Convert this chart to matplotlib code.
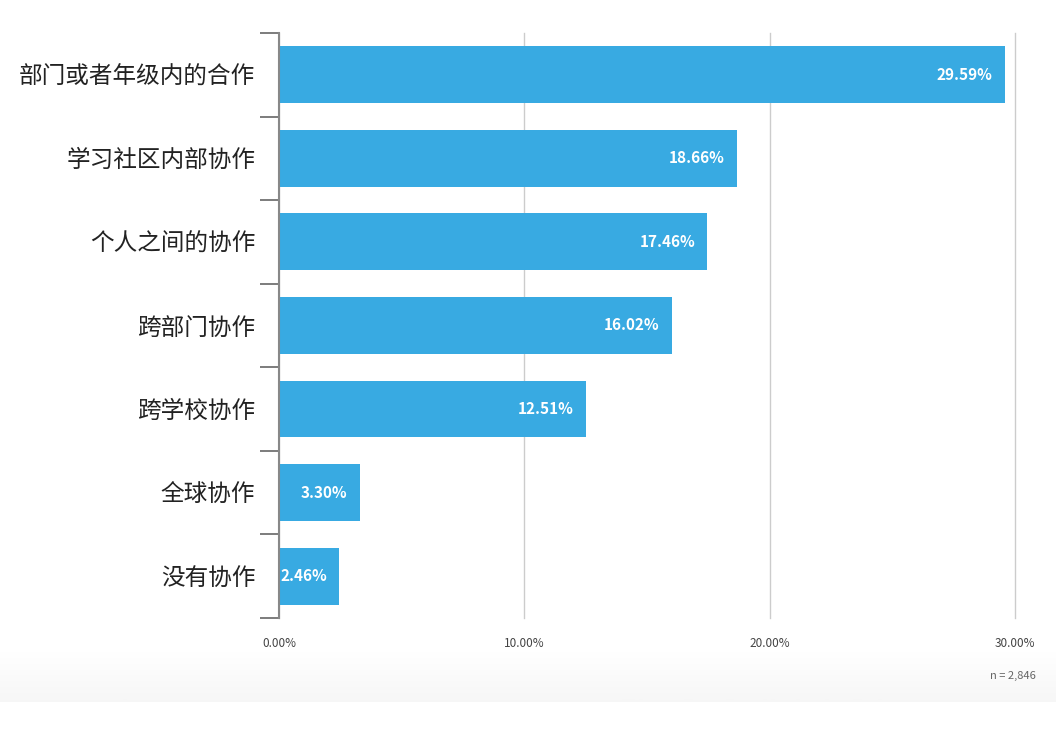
import numpy as np
import matplotlib.pyplot as plt
from matplotlib.ticker import FixedLocator

plt.rcParams['font.family'] = ['Noto Sans CJK SC', 'DejaVu Sans']

categories = ['部门或者年级内的合作', '学习社区内部协作', '个人之间的协作', '跨部门协作',
              '跨学校协作', '全球协作', '没有协作']
values = [29.59, 18.66, 17.46, 16.02, 12.51, 3.30, 2.46]
xticks = [0, 10, 20, 30]
xtick_labels = ['0.00%', '10.00%', '20.00%', '30.00%']

fig = plt.figure(figsize=(10.56, 7.31), dpi=100)

# faint grey shadow band at the bottom
grad = np.linspace(0, 1, 100).reshape(-1, 1)
bg = fig.add_axes([0.0, 0.04, 1.0, 0.07], zorder=-5)
bg.imshow(grad, aspect='auto', cmap='Greys', vmin=0, vmax=14, extent=[0, 1, 0, 1])
bg.axis('off')

ax = fig.add_axes([0.2642, 0.1546, 0.6970, 0.8003])

y = np.arange(len(categories))
ax.barh(y, values, height=0.68, color='#38aae2', zorder=3)

for yi, v in zip(y, values):
    ax.text(v - 0.5, yi, f'{v:.2f}%', ha='right', va='center', color='white',
            fontsize=11, fontweight='bold', zorder=4)

ax.set_xlim(0, 30)
ax.set_ylim(len(categories) - 0.5, -0.5)
ax.set_xticks(xticks)
ax.set_xticklabels(xtick_labels, fontsize=8.5, color='#444444')
ax.tick_params(axis='x', length=0, pad=14)

ax.set_yticks(y)
ax.set_yticklabels(categories, fontsize=17, color='#222222')
ax.tick_params(axis='y', which='major', length=0, pad=17)
ax.yaxis.set_minor_locator(FixedLocator(np.arange(-0.5, len(categories), 1)))
ax.tick_params(axis='y', which='minor', length=14, width=1.2, color='#666666')

for s in ['top', 'right', 'bottom']:
    ax.spines[s].set_visible(False)
ax.spines['left'].set_color('#888888')
ax.spines['left'].set_linewidth(1.5)
ax.spines['left'].set_zorder(5)

ax.grid(axis='x', color='#cccccc', linewidth=1, zorder=0)
for gl in ax.get_xgridlines():
    gl.set_clip_on(False)

fig.text(0.981, 0.075, 'n = 2,846', ha='right', va='center', fontsize=8,
         style='italic', color='#666666')

fig.savefig('out.png', dpi=100)
